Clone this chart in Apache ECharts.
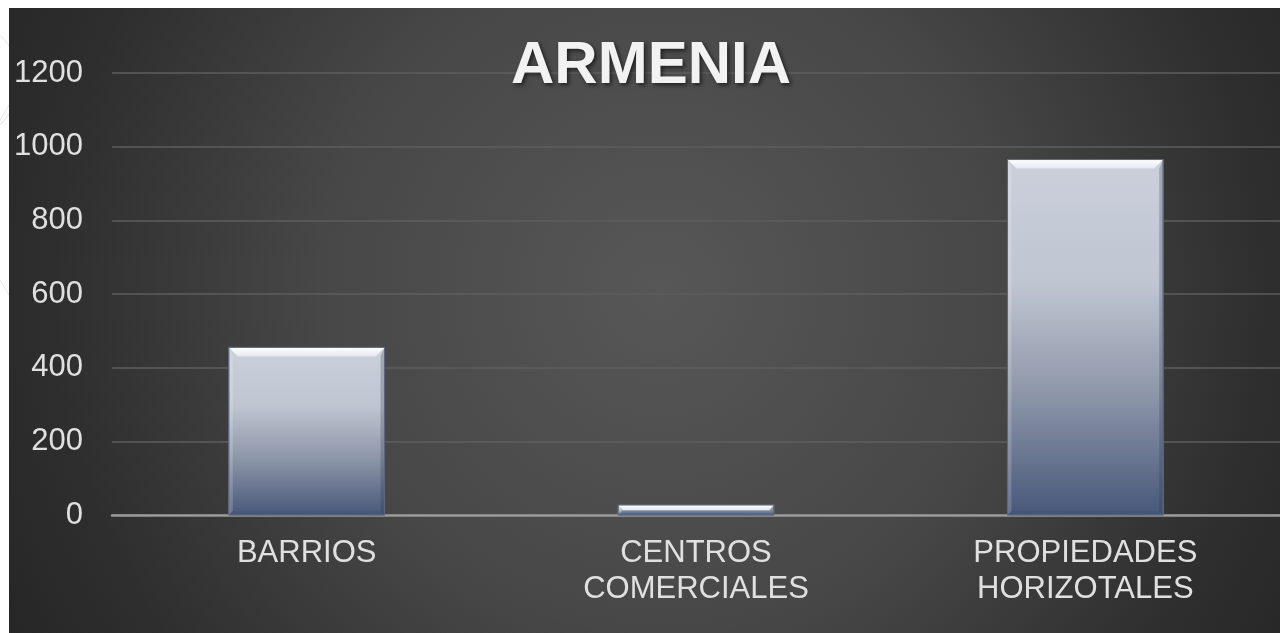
<!DOCTYPE html>
<html>
<head>
<meta charset="utf-8">
<script src="https://cdn.jsdelivr.net/npm/echarts@6/dist/echarts.min.js"></script>
<style>
html,body{margin:0;padding:0;background:#fff;}
#c{width:1280px;height:633px;}
</style>
</head>
<body>
<div id="c"></div>
<script>
const categories = ['BARRIOS', 'CENTROS\nCOMERCIALES', 'PROPIEDADES\nHORIZOTALES'];
const values = [455, 27, 965];
const yTicks = [0, 200, 400, 600, 800, 1000, 1200];
const chartTitle = 'ARMENIA';

const chart = echarts.init(document.getElementById('c'));

function renderBar(params, api) {
  const i = api.value(0);
  const v = api.value(1);
  const top = api.coord([i, v]);
  const base = api.coord([i, 0]);
  const band = api.size([1, 0])[0];
  const w = band * 0.4;
  const x0 = top[0] - w / 2, x1 = top[0] + w / 2;
  const y0 = top[1], y1 = base[1];
  const h = y1 - y0;
  const b = Math.min(9, h / 2);
  const bs = Math.min(4, h / 2);
  return {
    type: 'group',
    children: [
      { type: 'rect', shape: { x: x0, y: y0, width: w, height: h },
        style: { fill: new echarts.graphic.LinearGradient(0, 0, 0, 1, [
          { offset: 0, color: '#cbd0db' },
          { offset: 0.35, color: '#bfc5d1' },
          { offset: 0.65, color: '#8f98aa' },
          { offset: 1, color: '#48587a' }]), stroke: '#6c7588', lineWidth: 1 } },
      { type: 'polygon', shape: { points: [[x0, y0], [x1, y0], [x1 - b, y0 + b], [x0 + b, y0 + b]] },
        style: { fill: new echarts.graphic.LinearGradient(0, 0, 0, 1, [
          { offset: 0, color: '#ffffff' }, { offset: 1, color: '#e4e8ef' }]) } },
      { type: 'polygon', shape: { points: [[x0, y0], [x0 + bs, y0 + b], [x0 + bs, y1 - bs], [x0, y1]] },
        style: { fill: 'rgba(255,255,255,0.18)' } },
      { type: 'polygon', shape: { points: [[x1, y0], [x1 - bs, y0 + b], [x1 - bs, y1 - bs], [x1, y1]] },
        style: { fill: 'rgba(40,50,70,0.25)' } },
      { type: 'polygon', shape: { points: [[x0, y1], [x0 + bs, y1 - bs], [x1 - bs, y1 - bs], [x1, y1]] },
        style: { fill: 'rgba(60,80,120,0.35)' } },
      { type: 'rect', shape: { x: x0, y: y0, width: w, height: h },
        style: { fill: 'none', stroke: '#5c667a', lineWidth: 1 } }
    ]
  };
}

chart.setOption({
  animation: false,
  backgroundColor: '#ffffff',
  graphic: [
    { type: 'circle', z: -20, shape: { cx: 150, cy: 200, r: 170 }, style: { fill: 'none', stroke: '#e2e2e2', lineWidth: 1 } },
    { type: 'circle', z: -20, shape: { cx: -40, cy: 80, r: 60 }, style: { fill: 'none', stroke: '#e2e2e2', lineWidth: 1 } },
    { type: 'rect', z: -10, shape: { x: 9, y: 8, width: 1271, height: 625 },
      style: { fill: new echarts.graphic.RadialGradient(660, 290, 760, [
        { offset: 0, color: '#575757' },
        { offset: 0.45, color: '#474747' },
        { offset: 0.8, color: '#2e2e2e' },
        { offset: 1, color: '#252525' }], true) } }
  ],
  title: {
    text: chartTitle,
    left: 646, top: 31, textAlign: 'center',
    textStyle: { color: '#f2f2f2', fontSize: 60, fontWeight: 'bold', fontFamily: 'Liberation Sans, Arial',
      textShadowColor: 'rgba(0,0,0,0.6)', textShadowBlur: 4, textShadowOffsetX: 2, textShadowOffsetY: 2 }
  },
  grid: { left: 112, right: 0, top: 73, bottom: 118, containLabel: false },
  xAxis: {
    type: 'category', data: categories,
    axisLine: { lineStyle: { color: '#9a9a9a', width: 2.5 } },
    axisTick: { show: false },
    axisLabel: { color: '#e0e0e0', fontSize: 31, fontFamily: 'Liberation Sans, Arial', lineHeight: 36, margin: 20, interval: 0 }
  },
  yAxis: {
    type: 'value', min: 0, max: 1200, interval: 200,
    axisLine: { show: false }, axisTick: { show: false },
    axisLabel: { color: '#e0e0e0', fontSize: 31, fontFamily: 'Liberation Sans, Arial', margin: 29,
      formatter: v => yTicks.includes(v) ? String(v) : '' },
    splitLine: { lineStyle: { color: '#5e5e5e', width: 1.5 } }
  },
  series: [{
    type: 'custom',
    renderItem: renderBar,
    encode: { x: 0, y: 1 },
    data: values.map((v, i) => [i, v])
  }]
});
</script>
</body>
</html>
